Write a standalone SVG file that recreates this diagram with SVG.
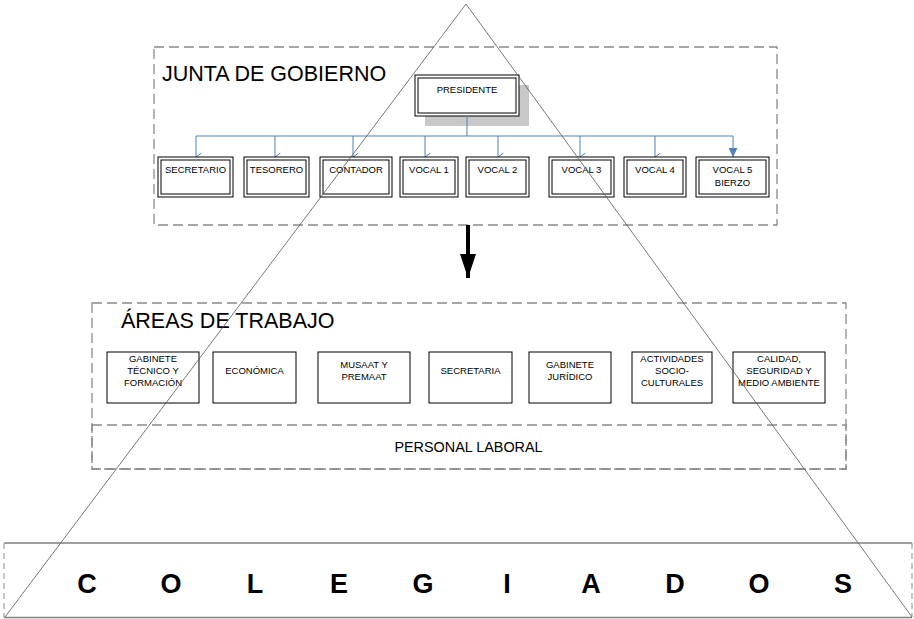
<svg xmlns="http://www.w3.org/2000/svg" width="914" height="619" viewBox="0 0 914 619">
<style>
text{font-family:"Liberation Sans",Arial,sans-serif;fill:#000}
.lbl{font-size:9.5px;text-anchor:middle}
.title{font-size:21.5px}
.dash{fill:none;stroke:#8a8a8a;stroke-width:1.3;stroke-dasharray:10 5}
.box{fill:#fff;stroke:#000;stroke-width:1}
.dbl{fill:none;stroke:#000;stroke-width:1}
.conn{fill:none;stroke:#4f81bd;stroke-width:1}
.big{font-size:27px;font-weight:bold;text-anchor:middle}
</style>
<defs>
<marker id="open" viewBox="0 0 8 6" refX="4" refY="5.5" markerWidth="8" markerHeight="6" markerUnits="userSpaceOnUse" orient="auto-start-reverse">
<path d="M0,0 L4,5.5 L8,0" fill="none" stroke="#4f81bd" stroke-width="1"/>
</marker>
<marker id="filled" viewBox="0 0 10 10" refX="5" refY="10" markerWidth="9" markerHeight="9" markerUnits="userSpaceOnUse" orient="0">
<path d="M0,0 L10,0 L5,10 Z" fill="#4f81bd"/>
</marker>
<marker id="bigarrow" viewBox="0 0 16 24" refX="8" refY="24" markerWidth="16" markerHeight="24" markerUnits="userSpaceOnUse" orient="0">
<path d="M0,0 L16,0 L8,24 Z" fill="#000"/>
</marker>
</defs>

<g id="junta-de-gobierno">
<rect class="dash" x="154" y="47" width="623" height="178"/>
<text class="title" x="162" y="81">JUNTA DE GOBIERNO</text>
</g>

<g id="presidente">
<rect x="425" y="85" width="104" height="41" fill="#c8c8c8"/>
<rect class="box" x="415" y="75" width="104" height="41"/>
<rect class="dbl" x="418" y="78" width="98" height="35"/>
<text class="lbl" x="467" y="93">PRESIDENTE</text>
</g>

<g id="connectors">
<path class="conn" d="M467,116 V136"/>
<path class="conn" d="M196,136 H733"/>
<path class="conn" d="M196,136 V157" marker-end="url(#open)"/>
<path class="conn" d="M275,136 V157" marker-end="url(#open)"/>
<path class="conn" d="M353,136 V157" marker-end="url(#open)"/>
<path class="conn" d="M425,136 V157" marker-end="url(#open)"/>
<path class="conn" d="M498,136 V157" marker-end="url(#open)"/>
<path class="conn" d="M580,136 V157" marker-end="url(#open)"/>
<path class="conn" d="M655,136 V157" marker-end="url(#open)"/>
<path class="conn" d="M733,136 V157" marker-end="url(#filled)"/>
<path d="M468,225 V278" stroke="#000" stroke-width="4" fill="none" marker-end="url(#bigarrow)"/>
</g>

<g id="secretario">
<rect class="box" x="158" y="157" width="75" height="40"/>
<rect class="dbl" x="161" y="160" width="69" height="34"/>
<text class="lbl" x="195.5" y="173">SECRETARIO</text>
</g>
<g id="tesorero">
<rect class="box" x="244" y="157" width="65" height="40"/>
<rect class="dbl" x="247" y="160" width="59" height="34"/>
<text class="lbl" x="276.5" y="173">TESORERO</text>
</g>
<g id="contador">
<rect class="box" x="320" y="157" width="72" height="40"/>
<rect class="dbl" x="323" y="160" width="66" height="34"/>
<text class="lbl" x="356" y="173">CONTADOR</text>
</g>
<g id="vocal1">
<rect class="box" x="400" y="157" width="58" height="40"/>
<rect class="dbl" x="403" y="160" width="52" height="34"/>
<text class="lbl" x="429" y="173">VOCAL 1</text>
</g>
<g id="vocal2">
<rect class="box" x="466" y="157" width="63" height="40"/>
<rect class="dbl" x="469" y="160" width="57" height="34"/>
<text class="lbl" x="497.5" y="173">VOCAL 2</text>
</g>
<g id="vocal3">
<rect class="box" x="549" y="157" width="65" height="40"/>
<rect class="dbl" x="552" y="160" width="59" height="34"/>
<text class="lbl" x="581.5" y="173">VOCAL 3</text>
</g>
<g id="vocal4">
<rect class="box" x="624" y="157" width="62" height="40"/>
<rect class="dbl" x="627" y="160" width="56" height="34"/>
<text class="lbl" x="655" y="173">VOCAL 4</text>
</g>
<g id="vocal5">
<rect class="box" x="696" y="157" width="73" height="40"/>
<rect class="dbl" x="699" y="160" width="67" height="34"/>
<text class="lbl" x="732.5" y="173">VOCAL 5</text>
<text class="lbl" x="732.5" y="186">BIERZO</text>
</g>

<g id="areas-de-trabajo">
<rect class="dash" x="92" y="303" width="754" height="166"/>
<text class="title" x="121" y="328">ÁREAS DE TRABAJO</text>
</g>

<g id="gabinete-tecnico">
<rect class="box" x="107" y="352" width="92" height="51"/>
<text class="lbl" x="153" y="362">GABINETE</text>
<text class="lbl" x="153" y="374">TÉCNICO Y</text>
<text class="lbl" x="153" y="386">FORMACIÓN</text>
</g>
<g id="economica">
<rect class="box" x="213" y="352" width="83" height="51"/>
<text class="lbl" x="254.5" y="374">ECONÓMICA</text>
</g>
<g id="musaat">
<rect class="box" x="318" y="352" width="92" height="51"/>
<text class="lbl" x="364" y="368">MUSAAT Y</text>
<text class="lbl" x="364" y="380">PREMAAT</text>
</g>
<g id="secretaria">
<rect class="box" x="429" y="352" width="83" height="51"/>
<text class="lbl" x="470.5" y="374">SECRETARIA</text>
</g>
<g id="gabinete-juridico">
<rect class="box" x="529" y="352" width="82" height="51"/>
<text class="lbl" x="570" y="368">GABINETE</text>
<text class="lbl" x="570" y="380">JURÍDICO</text>
</g>
<g id="actividades">
<rect class="box" x="632" y="352" width="80" height="51"/>
<text class="lbl" x="672" y="362">ACTIVIDADES</text>
<text class="lbl" x="672" y="374">SOCIO-</text>
<text class="lbl" x="672" y="386">CULTURALES</text>
</g>
<g id="calidad">
<rect class="box" x="733" y="352" width="92" height="51"/>
<text class="lbl" x="779" y="362">CALIDAD,</text>
<text class="lbl" x="779" y="374">SEGURIDAD Y</text>
<text class="lbl" x="779" y="386">MEDIO AMBIENTE</text>
</g>

<g id="personal-laboral">
<rect class="dash" x="92" y="425" width="754" height="44"/>
<text x="468.5" y="452" font-size="14.4" text-anchor="middle">PERSONAL LABORAL</text>
</g>

<g id="colegiados">
<path d="M4,543 H912 M4,617.5 H912" stroke="#808080" stroke-width="1.3" fill="none"/>
<path d="M4,543 V617 M912,543 V617" stroke="#aaaaaa" stroke-width="1.3" stroke-dasharray="6 4" fill="none"/>
<text class="big" x="87" y="593">C</text>
<text class="big" x="171" y="593">O</text>
<text class="big" x="255" y="593">L</text>
<text class="big" x="339" y="593">E</text>
<text class="big" x="423" y="593">G</text>
<text class="big" x="507" y="593">I</text>
<text class="big" x="591" y="593">A</text>
<text class="big" x="675" y="593">D</text>
<text class="big" x="759" y="593">O</text>
<text class="big" x="843" y="593">S</text>
</g>

<g id="piramide">
<path d="M5,617 L466,4 L912,617" fill="none" stroke="#555" stroke-width="0.8"/>
</g>
</svg>
